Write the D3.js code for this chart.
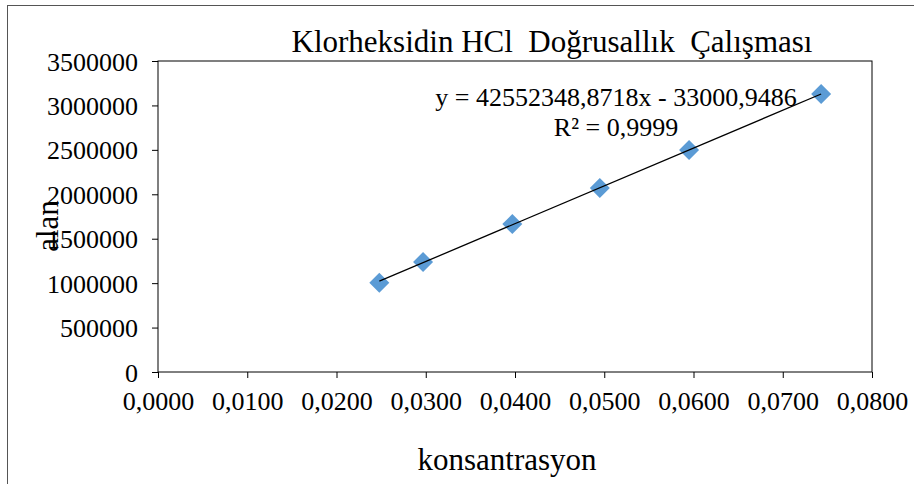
<!DOCTYPE html>
<html>
<head>
<meta charset="utf-8">
<script src="https://cdn.jsdelivr.net/npm/d3@7"></script>
<style>
    body { margin: 0; background: #fff; }
    svg { display: block; }
    text { font-family: "Liberation Serif", "Times New Roman", serif; fill: #000; }
    .axis path, .axis line { stroke: #000; }
</style>
</head>
<body>
<svg id="chart"></svg>
<script>
// concentration (x) and peak area (y)
var konsantrasyon = [0.0248, 0.0297, 0.0397, 0.0495, 0.0595, 0.0743];
var alan = [1005000, 1238000, 1665000, 2071000, 2498000, 3128000];

var xTicks = [0, 0.01, 0.02, 0.03, 0.04, 0.05, 0.06, 0.07, 0.08];
var yTicks = [0, 500000, 1000000, 1500000, 2000000, 2500000, 3000000, 3500000];

var slope = 42552348.8718,
    intercept = -33000.9486;

var titleText = "Klorheksidin HCl  Doğrusallık  Çalışması";
var eqText = "y = 42552348,8718x - 33000,9486";
var r2Text = "R² = 0,9999";

var w = 914, h = 484;
var margin = { top: 61, right: 42, bottom: 112, left: 158 };

var svg = d3.select("#chart").attr("width", w).attr("height", h);

// outer chart frame (runs off the right / bottom of the window)
svg.append("rect")
    .attr("x", 7.5).attr("y", 5.5)
    .attr("width", 1000).attr("height", 1000)
    .attr("fill", "none")
    .attr("stroke", "#555");

var width = w - margin.left - margin.right,
    height = h - margin.top - margin.bottom;

var g = svg.append("g").attr("transform", "translate(" + margin.left + "," + margin.top + ")");

var x = d3.scaleLinear().domain([0, 0.08]).range([0, width]);
var y = d3.scaleLinear().domain([0, 3500000]).range([height, 0]);

// plot area box
g.append("rect")
    .attr("width", width).attr("height", height)
    .attr("fill", "none").attr("stroke", "#000");

var commaFmt = function(d) { return d3.format(".4f")(d).replace(".", ","); };

var xAxis = g.append("g")
    .attr("class", "axis axis--x")
    .attr("transform", "translate(0," + height + ")")
    .call(d3.axisBottom(x).tickValues(xTicks).tickFormat(commaFmt).tickSize(6).tickPadding(8));

var yAxis = g.append("g")
    .attr("class", "axis axis--y")
    .call(d3.axisLeft(y).tickValues(yTicks).tickFormat(d3.format("d")).tickSize(6).tickPadding(14));

g.selectAll(".axis text").style("font-size", "26px");
xAxis.selectAll("text").attr("dy", "0.92em");
yAxis.selectAll("text").attr("dy", "0.35em");
g.selectAll(".axis path").remove();

var xExt = d3.extent(konsantrasyon);

// diamond markers
var diamond = d3.symbol().type(d3.symbolSquare).size(200);
g.selectAll(".pt")
    .data(konsantrasyon)
    .enter().append("path")
    .attr("class", "pt")
    .attr("d", diamond)
    .attr("fill", "#5B9BD5")
    .attr("transform", function(d, i) {
        return "translate(" + x(d) + "," + y(alan[i]) + ") rotate(45)";
    });

// trendline over the data range, on top of the markers
g.append("line")
    .attr("x1", x(xExt[0])).attr("y1", y(slope * xExt[0] + intercept))
    .attr("x2", x(xExt[1])).attr("y2", y(slope * xExt[1] + intercept))
    .attr("stroke", "#000").attr("stroke-width", 1.3);

// title
svg.append("text")
    .attr("x", 552).attr("y", 52)
    .attr("text-anchor", "middle")
    .style("font-size", "31px")
    .style("white-space", "pre")
    .text(titleText);

// regression labels
svg.append("text")
    .attr("x", 616).attr("y", 106)
    .attr("text-anchor", "middle")
    .style("font-size", "26px")
    .text(eqText);
svg.append("text")
    .attr("x", 616).attr("y", 136)
    .attr("text-anchor", "middle")
    .style("font-size", "26px")
    .text(r2Text);

// axis titles
svg.append("text")
    .attr("x", 507).attr("y", 470)
    .attr("text-anchor", "middle")
    .style("font-size", "31px")
    .text("konsantrasyon");

svg.append("text")
    .attr("transform", "translate(58,226) rotate(-90)")
    .attr("text-anchor", "middle")
    .style("font-size", "31px")
    .text("alan");
</script>
</body>
</html>
